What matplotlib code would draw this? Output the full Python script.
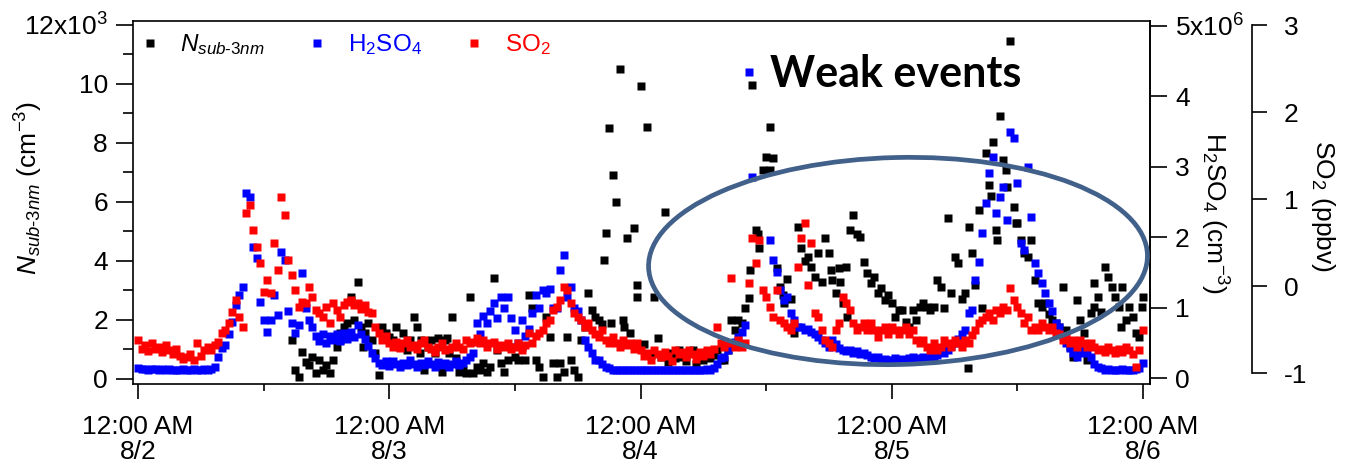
import numpy as np
import matplotlib
matplotlib.use('Agg')
import matplotlib.pyplot as plt
from matplotlib.patches import Ellipse
from matplotlib.ticker import FixedLocator, MultipleLocator

plt.rcParams['font.family'] = ['Liberation Sans', 'DejaVu Sans']
plt.rcParams['mathtext.fontset'] = 'custom'
plt.rcParams['mathtext.rm'] = 'Liberation Sans'
plt.rcParams['mathtext.it'] = 'Liberation Sans:italic'
plt.rcParams['mathtext.bf'] = 'Liberation Sans:bold'

nan = np.nan
SAMPLE_MIN = 20  # sampling interval (minutes), start 8/2 00:00

# H2SO4 (1e6 cm^-3)
h2so4 = [
    0.14, 0.13, 0.13, 0.12, 0.13, 0.13, 0.12, 0.13, 0.12, 0.13, 0.12, 0.12,
    0.12, 0.13, 0.12, 0.12, 0.13, 0.12, 0.12, 0.13, 0.12, 0.13, 0.16, 0.30,
    0.42, 0.47, 0.62, 0.80, 1.04, 1.18, 1.29, 2.63, 2.57, 1.86, 1.70, 1.08,
    0.82, 0.65, 0.82, 1.18, 0.90, 1.79, 1.68, 0.95, 0.78, 0.64, 0.75, 1.49,
    0.99, 0.82, 0.72, 0.60, 0.52, 0.62, 0.50, 0.60, 0.54, 0.62, 0.52, 0.64,
    0.56, 0.65, 0.58, 0.75, 0.62, 0.55, 0.45, 0.36, 0.28, 0.22, 0.18, 0.24,
    0.17, 0.24, 0.20, 0.16, 0.22, 0.18, 0.25, 0.20, 0.16, 0.22, 0.18, 0.24,
    0.20, 0.16, 0.23, 0.18, 0.22, 0.16, 0.20, 0.24, 0.18, 0.22, 0.26, 0.30,
    0.35, 0.78, 0.62, 0.88, 0.78, 0.95, 1.07, 0.85, 1.15, 1.00, 1.15, 0.85,
    0.68, 0.50, 0.82, 0.60, 0.70, 0.92, 1.18, 1.00, 1.25, 1.21, 1.27, 1.00,
    1.00, 1.53, 1.75, 1.15, 1.29, 1.00, 0.95, 0.82, 0.54, 0.44, 0.36, 0.26,
    0.26, 0.20, 0.16, 0.14, 0.12, 0.11, 0.12, 0.11, 0.12, 0.11, 0.12, 0.11,
    0.11, 0.12, 0.11, 0.12, 0.11, 0.11, 0.12, 0.11, 0.12, 0.11, 0.12, 0.11,
    0.11, 0.12, 0.11, 0.12, 0.11, 0.12, 0.12, 0.13, 0.12, 0.14, 0.20, 0.28,
    0.30, 0.40, 0.45, 0.51, 0.58, 0.65, 0.75, 4.35, 2.85, nan, nan, nan,
    nan, 1.96, 1.68, 1.50, 1.25, 1.11, 1.15, 0.92, 0.82, 0.72, 0.72, 0.68,
    0.70, 0.66, 0.62, 0.58, 0.54, 0.50, 0.44, 0.54, 0.48, 0.42, 0.40, 0.38,
    0.40, 0.36, 0.38, 0.34, 0.36, 0.32, 0.30, 0.28, 0.30, 0.26, 0.27, 0.26,
    0.26, 0.28, 0.25, 0.27, 0.26, 0.28, 0.30, 0.27, 0.29, 0.30, 0.28, 0.30,
    0.30, 0.32, 0.38, 0.36, 0.40, 0.45, 0.50, 0.55, 0.62, 0.68, 0.92, 0.97,
    1.39, 1.65, 2.06, 2.49, 2.91, 3.14, 2.34, 2.57, 2.71, 2.24, 3.49, 3.41,
    2.77, 1.92, 1.82, 3.00, 2.29, 1.63, 1.49, 1.35, 1.21, 1.07, 0.95, 0.78,
    0.72, 0.60, 0.50, 0.42, 0.35, 0.30, 0.36, 0.40, 0.36, 0.30, 0.20, 0.16,
    0.14, 0.12, 0.13, 0.12, 0.11, 0.12, 0.13, 0.12, 0.11, 0.12, 0.13, 0.14,
    0.21,
]

# SO2 (ppbv)
so2 = [
    -0.62, -0.72, -0.68, -0.75, -0.66, -0.72, -0.70, -0.76, -0.68, -0.74, -0.78, -0.72,
    -0.80, -0.84, -0.82, -0.78, -0.85, -0.66, -0.80, -0.74, -0.70, -0.74, -0.68, -0.64,
    -0.54, -0.50, -0.43, -0.30, -0.16, -0.36, -0.47, 0.84, 0.93, 0.64, 0.45, 0.26,
    -0.07, 0.07, -0.08, 0.50, 0.18, 1.02, 0.82, 0.30, 0.13, -0.05, -0.24, -0.18,
    -0.20, -0.01, -0.13, -0.28, -0.31, -0.36, -0.24, -0.43, -0.20, -0.28, -0.36, -0.22,
    -0.18, -0.16, -0.22, -0.20, -0.26, -0.22, -0.30, -0.31, -0.47, -0.54, -0.62, -0.58,
    -0.66, -0.70, -0.64, -0.71, -0.66, -0.62, -0.70, -0.68, -0.72, -0.66, -0.62, -0.70,
    -0.72, -0.76, -0.70, -0.66, -0.74, -0.72, -0.70, -0.66, -0.70, -0.72, -0.62, -0.66,
    -0.64, -0.60, -0.66, -0.62, -0.70, -0.66, -0.64, -0.72, -0.68, -0.70, -0.66, -0.72,
    -0.70, -0.66, -0.74, -0.68, -0.54, -0.66, -0.58, -0.54, -0.51, -0.43, -0.39, -0.28,
    -0.24, -0.16, -0.01, -0.05, -0.20, -0.31, -0.36, -0.39, -0.47, -0.43, -0.51, -0.55,
    -0.59, -0.51, -0.62, -0.66, -0.59, -0.66, -0.70, -0.62, -0.68, -0.66, -0.72, -0.66,
    -0.74, -0.80, -0.77, -0.85, -0.74, -0.78, -0.82, -0.76, -0.80, -0.86, -0.74, -0.78,
    -0.76, -0.82, -0.74, -0.78, -0.84, -0.76, -0.80, -0.74, -0.78, -0.72, -0.47, -0.66,
    -0.70, -0.66, 0.09, -0.70, -0.62, -0.70, -0.66, 0.03, 0.55, 0.26, 0.53, -0.05,
    -0.13, -0.24, -0.36, -0.05, -0.39, -0.43, -0.47, -0.51, -0.43, 0.22, 0.55, 0.72,
    0.01, 0.49, -0.31, -0.36, -0.51, -0.62, -0.66, -0.70, -0.51, -0.43, -0.13, -0.20,
    -0.28, -0.43, -0.51, -0.47, -0.43, -0.51, -0.43, -0.51, -0.59, -0.51, -0.47, -0.55,
    -0.47, -0.51, -0.55, -0.51, -0.47, -0.55, -0.51, -0.62, -0.66, -0.62, -0.70, -0.74,
    -0.66, -0.74, -0.70, -0.62, -0.66, -0.70, -0.62, -0.66, -0.70, -0.62, -0.66, -0.56,
    -0.51, -0.43, -0.39, -0.36, -0.31, -0.39, -0.28, -0.31, -0.24, -0.28, -0.02, -0.16,
    -0.24, -0.31, -0.43, -0.36, -0.51, -0.47, -0.51, -0.43, -0.47, -0.51, -0.47, -0.54,
    -0.55, -0.62, -0.58, -0.66, -0.62, -0.70, -0.62, -0.66, -0.70, -0.66, -0.70, -0.74,
    -0.72, -0.76, -0.70, -0.74, -0.77, -0.72, -0.76, -0.70, -0.74, -0.78, -0.93, -0.74,
    -0.51,
]

# N_sub-3nm (1e3 cm^-3)
nsub = [
    nan, nan, nan, nan, nan, nan, nan, nan, nan, nan, nan, nan,
    nan, nan, nan, nan, nan, nan, nan, nan, nan, nan, nan, nan,
    nan, nan, nan, nan, nan, nan, nan, nan, nan, nan, nan, nan,
    nan, nan, nan, nan, nan, nan, nan, nan, 1.32, 0.30, 0.07, 0.92,
    0.58, 0.47, 0.75, 0.20, 0.64, 0.30, 0.47, 0.20, 0.64, 1.08, 1.32, 1.76,
    1.90, 2.78, 2.00, 3.30, 1.76, 1.56, 1.90, 1.32, 0.88, 0.14, 1.76, 1.56,
    1.42, 1.32, 1.76, 1.10, 1.56, 0.98, 1.32, 2.10, 1.76, 1.32, 0.30, 1.10,
    1.32, 0.88, 1.38, 0.24, 1.32, 0.88, 2.10, 0.70, 0.24, 0.30, 0.20, 2.78,
    0.20, 0.40, 0.30, 0.54, 0.24, 0.40, 3.42, 0.98, 0.54, 0.24, 0.64, 1.08,
    0.75, 0.64, 1.08, 0.64, 2.85, 2.41, 0.64, 0.40, 0.07, 2.10, 1.42, 0.54,
    0.07, 0.54, 0.24, 1.42, 0.64, 0.30, 0.07, 1.32, 1.76, 2.92, 2.34, 2.10,
    2.00, 1.86, 4.95, 8.50, 6.91, 6.00, 10.50, 2.00, 4.78, 1.56, 5.12, 3.19,
    9.93, 1.20, 8.54, 0.80, 2.78, 1.39, 0.75, 5.66, 0.58, 0.88, 0.70, 0.98,
    0.75, 0.60, 0.88, 0.98, 0.50, 0.70, 0.64, 0.90, 0.70, 0.80, 0.98, 0.64,
    0.64, 0.98, 2.00, 1.66, 2.00, 1.90, 2.41, 2.75, 9.97, 5.05, 4.44, 7.08,
    7.53, 8.54, 7.49, 3.76, 3.12, 2.58, 3.40, 2.70, 1.56, 5.15, 4.44, 4.00,
    4.14, 3.80, 3.46, 4.27, 3.29, 4.78, 4.27, 3.36, 2.92, 3.76, 2.58, 3.80,
    5.05, 5.56, 4.90, 4.81, 3.97, 3.60, 3.25, 3.46, 2.92, 3.10, 2.68, 2.85,
    2.58, 2.10, 2.34, 2.34, 1.93, 1.76, 2.34, 2.00, 2.44, 2.58, 2.44, 2.34,
    2.44, 3.36, 3.12, 2.40, 5.46, 2.92, 4.14, 3.93, 2.70, 2.92, 5.15, 4.27,
    3.20, 5.73, 2.41, 7.66, 6.58, 8.03, 5.05, 8.90, 7.42, 6.51, 11.46, 5.83,
    5.29, 4.71, 4.27, 4.14, 4.71, 3.36, 2.58, 2.44, 2.58, 2.20, 2.00, 1.90,
    1.76, 3.12, 1.66, 1.10, 0.75, 2.68, 2.00, 1.56, 0.64, 2.24, 3.25, 2.78,
    2.27, 3.80, 3.46, 3.12, 2.78, 2.44, 3.12, 2.00, 2.44, 2.10, 1.56, 1.42,
    2.78,
]

# additional N_sub-3nm samples (hours after 8/2 00:00, 1e3 cm^-3)
nsub_extra_hours = [44.55, 58.5, 59.2, 60.4, 61.6, 66.2, 67.1, 67.7, 79.25, 81.45,
                    82.1, 82.9, 83.85, 45.2, 46.4, 47.7, 19.3, 21.5, 26.96, 29.5,
                    89.3, 91.3, 93.9, 95.9]
nsub_extra = [4.03, 3.70, 4.90, 7.08, 2.85, 3.70, 3.29, 2.10, 0.37, 6.20,
              4.71, 7.08, 5.29, 1.90, 1.76, 2.78, 1.56, 1.10, 0.88, 1.38,
              1.00, 2.44, 1.76, 2.44]

x_tick_hours = [0, 24, 48, 72, 96]
x_tick_labels = ['12:00 AM\n8/2', '12:00 AM\n8/3', '12:00 AM\n8/4',
                 '12:00 AM\n8/5', '12:00 AM\n8/6']
n_ticks = [0, 2, 4, 6, 8, 10, 12]
n_tick_labels = ['0', '2', '4', '6', '8', '10', '12x10$^3$']
h_ticks = [0, 1, 2, 3, 4, 5]
h_tick_labels = ['0', '1', '2', '3', '4', '5x10$^6$']
s_ticks = [-1, 0, 1, 2, 3]
s_tick_labels = ['-1', '0', '1', '2', '3']

lab_n = r'$N_{\mathit{sub}\text{-}\mathit{3nm}}$'
lab_h = r'H$_2$SO$_4$'
lab_s = r'SO$_2$'

hours = np.arange(len(h2so4)) * SAMPLE_MIN / 60.0

W, H = 1346, 463
fig = plt.figure(figsize=(W / 100, H / 100), dpi=100)
L, R, B, T = 133 / W, 1150 / W, (H - 384) / H, (H - 20.5) / H
ax = fig.add_axes([L, B, R - L, T - B])
ax2 = ax.twinx()
ax3 = ax.twinx()

ms = 5.4
h_n, = ax.plot(np.concatenate([hours, nsub_extra_hours]),
               np.concatenate([nsub, nsub_extra]),
               ls='none', marker='s', ms=ms, color='black', mec='none', label=lab_n)
h_h, = ax2.plot(hours, h2so4, ls='none', marker='s', ms=ms, color='#0000FF',
                mec='none', label=lab_h)
h_s, = ax3.plot(hours, so2, ls='none', marker='s', ms=ms, color='#FF0000',
                mec='none', label=lab_s)

fs = 19
lw = 1.2
ax.set_xlim(-0.48, 96.67)
ax.set_ylim(-0.17, 12.15)
ax2.set_ylim(-0.085, 5.078)
ax3.set_ylim(-1.126, 3.052)

# x axis
ax.xaxis.set_major_locator(FixedLocator(x_tick_hours))
ax.set_xticklabels(x_tick_labels)
ax.xaxis.set_minor_locator(FixedLocator([12, 36, 60, 84]))
ax.tick_params(axis='x', which='major', length=11, width=lw, labelsize=fs, pad=11)
ax.tick_params(axis='x', which='minor', length=5, width=lw)
for t in ax.get_xticklabels():
    t.set_linespacing(1.05)

# left axis
ax.yaxis.set_major_locator(FixedLocator(n_ticks))
ax.set_yticklabels(n_tick_labels)
ax.yaxis.set_minor_locator(MultipleLocator(1))
ax.tick_params(axis='y', which='major', length=12, width=lw, labelsize=fs, pad=6)
ax.tick_params(axis='y', which='minor', length=7, width=lw)
ax.set_ylabel(lab_n + ' (cm$^{-3}$)', fontsize=fs)
ax.yaxis.set_label_coords(-0.0865, 0.54)
for sp in ax.spines.values():
    sp.set_linewidth(lw)

# H2SO4 axis
ax2.yaxis.set_major_locator(FixedLocator(h_ticks))
ax2.set_yticklabels(h_tick_labels)
ax2.tick_params(axis='y', length=12, width=lw, labelsize=fs, pad=6)
ax2.set_ylabel(lab_h + ' (cm$^{-3}$)', fontsize=fs, rotation=270, va='center')
ax2.yaxis.set_label_coords(1.063, 0.47)
for k in ['left', 'top', 'bottom']:
    ax2.spines[k].set_visible(False)
ax2.spines['right'].set_linewidth(lw)

# SO2 axis
ax3.spines['right'].set_position(('axes', 1.1003))
ax3.spines['right'].set_bounds(-1, 3)
ax3.spines['right'].set_linewidth(lw)
for k in ['left', 'top', 'bottom']:
    ax3.spines[k].set_visible(False)
ax3.yaxis.set_major_locator(FixedLocator(s_ticks))
ax3.set_yticklabels(s_tick_labels)
ax3.tick_params(axis='y', length=11, width=lw, labelsize=fs, pad=12)
ax3.set_ylabel(lab_s + ' (ppbv)', fontsize=fs, rotation=270, va='center')
ax3.yaxis.set_label_coords(1.17, 0.49)

# legend
leg = ax3.legend([h_n, h_h, h_s], [lab_n, lab_h, lab_s], loc='upper left',
                 bbox_to_anchor=(-0.006, 1.015), ncol=3, frameon=False, fontsize=17.5,
                 handlelength=0.5, handletextpad=1.0, columnspacing=1.9,
                 borderaxespad=0.3)
for txt, c in zip(leg.get_texts(), ['black', '#0000FF', '#FF0000']):
    txt.set_color(c)

# annotation
ell = Ellipse((8.98, 2.02), 4.99, 2.07, angle=1.4, fill=False,
              edgecolor='#41618A', linewidth=3.4, transform=fig.dpi_scale_trans,
              zorder=10)
fig.patches.append(ell)
fig.text(770 / W, (H - 87) / H, 'Weak events', fontsize=31, fontweight='bold',
         family=['Lato', 'DejaVu Sans'], ha='left', va='baseline')

fig.savefig('out.png', dpi=100)
